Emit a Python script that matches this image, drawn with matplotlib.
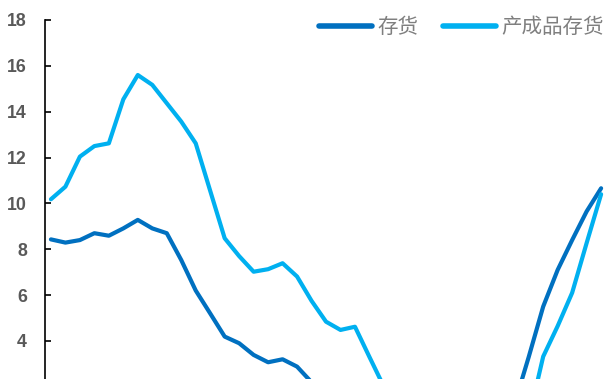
import matplotlib
matplotlib.use("Agg")
import matplotlib.pyplot as plt

# monthly points, equally spaced; the bottom of the chart is cut off in the
# reference, so values under ~2.3 are only rough guesses
months = list(range(39))
inventory = [8.43, 8.29, 8.4, 8.7, 8.59, 8.91, 9.28, 8.91, 8.7, 7.53,
             6.2, 5.2, 4.19, 3.9, 3.39, 3.07, 3.2, 2.88, 2.2, 1.5,
             0.9, 0.4, 0.0, -0.4, -0.8, -1.1, -1.3, -1.2, -0.9, -0.5,
             -0.1, 0.4, 1.2, 3.3, 5.5, 7.1, 8.4, 9.65, 10.66]
finished_goods = [10.18, 10.73, 12.04, 12.5, 12.62, 14.54, 15.6, 15.17, 14.37, 13.57,
                  12.62, 10.55, 8.48, 7.7, 7.02, 7.13, 7.39, 6.81, 5.75, 4.84,
                  4.48, 4.62, 3.3, 2.0, 1.2, 0.5, -0.2, -0.8, -1.2, -1.4,
                  -1.3, -0.9, -0.2, 0.6, 3.32, 4.65, 6.1, 8.27, 10.4]
labels = ["存货", "产成品存货"]
yticks = [4, 6, 8, 10, 12, 14, 16, 18]

plt.rcParams["font.family"] = ["Liberation Sans", "Noto Sans CJK SC", "DejaVu Sans"]

fig = plt.figure(figsize=(6.04, 3.79), dpi=100)
ax = fig.add_axes([45 / 604, 0, 559 / 604, 359 / 379])

ax.plot(months, inventory, color="#0070C0", lw=3.0, label=labels[0],
        solid_joinstyle="round", solid_capstyle="round")
ax.plot(months, finished_goods, color="#00B0F0", lw=3.0, label=labels[1],
        solid_joinstyle="round", solid_capstyle="round")

ax.set_xlim(-0.41, 38.2)
ax.set_ylim(2.34, 18)
ax.set_yticks(yticks)
ax.set_xticks([])
for s in ["top", "right", "bottom"]:
    ax.spines[s].set_visible(False)
ax.spines["left"].set_linewidth(1.2)
ax.tick_params(axis="y", direction="in", length=4.5, width=1.2, pad=13,
               labelsize=12.8, labelcolor="#595959")
for t in ax.get_yticklabels():
    t.set_fontweight("bold")

leg = ax.legend(loc="center right", bbox_to_anchor=(1.0, 1 - 27 / 379),
                bbox_transform=fig.transFigure, ncol=2, frameon=False,
                handlelength=2.6, handletextpad=0.25, columnspacing=1.2,
                borderpad=0, borderaxespad=0,
                prop={"family": "Noto Sans CJK SC", "size": 14.8})
for line in leg.get_lines():
    line.set_linewidth(4)
for t in leg.get_texts():
    t.set_color("#7f7f7f")

fig.savefig("out.png", dpi=100)
